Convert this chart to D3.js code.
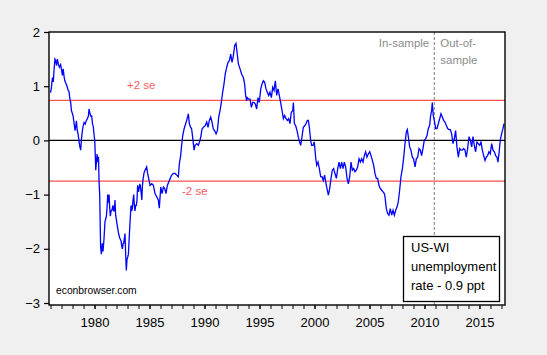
<!DOCTYPE html>
<html><head><meta charset="utf-8">
<script src="https://cdn.jsdelivr.net/npm/d3@7"></script>
<style>
body{margin:0;background:#f0f0f0;}
svg{display:block;font-family:"Liberation Sans",Arial,sans-serif;}
</style></head>
<body><svg id="c" width="547" height="355"></svg>
<script>
const dates = [
1976.0,1976.08,1976.17,1976.25,1976.32,1976.4,1976.47,1976.55,1976.62,1976.7,1976.8,1976.92,
1977.0,1977.08,1977.15,1977.23,1977.3,1977.4,1977.53,1977.6,1977.68,1977.75,1977.83,1977.9,1977.98,
1978.05,1978.15,1978.23,1978.3,1978.35,1978.42,1978.5,1978.58,1978.65,1978.74,1978.8,1978.89,1978.97,
1979.05,1979.15,1979.26,1979.35,1979.44,1979.5,1979.56,1979.65,1979.74,1979.82,1979.89,1979.96,
1980.02,1980.08,1980.11,1980.17,1980.23,1980.3,1980.36,1980.41,1980.47,1980.55,1980.62,1980.7,1980.77,1980.86,1980.95,
1981.08,1981.15,1981.2,1981.26,1981.32,1981.38,1981.44,1981.5,1981.56,1981.62,1981.68,1981.74,1981.8,1981.86,1981.92,
1982.05,1982.17,1982.29,1982.41,1982.47,1982.53,1982.6,1982.65,1982.72,1982.77,1982.83,1982.89,1982.95,
1983.02,1983.08,1983.14,1983.23,1983.32,1983.38,1983.44,1983.5,1983.56,1983.62,1983.68,1983.74,1983.8,1983.86,1983.92,
1984.0,1984.05,1984.12,1984.17,1984.23,1984.3,1984.35,1984.41,1984.5,1984.59,1984.74,1984.82,1984.89,
1985.05,1985.2,1985.35,1985.5,1985.65,1985.8,1985.89,1986.02,1986.14,1986.26,1986.38,1986.5,1986.62,1986.74,1986.86,
1987.02,1987.17,1987.32,1987.47,1987.62,1987.71,1987.83,1987.92,1988.02,1988.14,1988.23,1988.38,1988.53,1988.62,1988.74,1988.83,1988.92,
1989.05,1989.14,1989.29,1989.44,1989.59,1989.68,1989.77,1989.89,1990.05,1990.2,1990.32,1990.44,1990.56,1990.68,1990.8,1990.92,
1991.05,1991.17,1991.29,1991.41,1991.53,1991.65,1991.77,1991.89,1992.02,1992.14,1992.26,1992.38,1992.5,1992.62,1992.74,1992.86,1992.98,
1993.08,1993.23,1993.38,1993.53,1993.65,1993.74,1993.83,1993.89,1994.02,1994.14,1994.26,1994.38,1994.5,1994.62,1994.74,1994.86,1994.98,
1995.11,1995.23,1995.35,1995.47,1995.59,1995.71,1995.83,1995.95,1996.08,1996.2,1996.32,1996.44,1996.56,1996.68,1996.8,1996.92,
1997.05,1997.17,1997.29,1997.41,1997.53,1997.65,1997.77,1997.89,1998.02,1998.08,1998.17,1998.29,1998.41,1998.53,1998.65,1998.74,1998.86,1998.98,
1999.11,1999.23,1999.35,1999.44,1999.53,1999.65,1999.74,1999.86,1999.98,2000.11,2000.2,2000.32,2000.44,2000.56,2000.68,2000.8,2000.92,
2001.05,2001.17,2001.26,2001.38,2001.5,2001.62,2001.74,2001.86,2001.99,2002.11,2002.23,2002.35,2002.47,2002.59,2002.71,2002.83,2002.96,
2003.08,2003.2,2003.32,2003.44,2003.56,2003.68,2003.8,2003.92,2004.05,2004.17,2004.29,2004.41,2004.53,2004.65,2004.77,2004.89,
2005.02,2005.14,2005.26,2005.38,2005.5,2005.62,2005.74,2005.86,2005.99,2006.11,2006.23,2006.35,2006.41,2006.53,2006.65,2006.77,2006.89,
2007.02,2007.14,2007.26,2007.38,2007.5,2007.62,2007.74,2007.86,2007.99,2008.11,2008.23,2008.35,2008.44,2008.53,2008.65,2008.77,2008.89,
2009.01,2009.14,2009.26,2009.38,2009.5,2009.62,2009.74,2009.86,2009.98,2010.11,2010.23,2010.35,2010.47,2010.56,2010.65,2010.71,2010.8,2010.89,
2011.02,2011.14,2011.26,2011.38,2011.5,2011.62,2011.74,2011.86,2011.98,2012.11,2012.23,2012.35,2012.47,2012.59,2012.71,2012.83,2012.95,
2013.08,2013.2,2013.32,2013.44,2013.56,2013.68,2013.8,2013.92,2014.05,2014.17,2014.29,2014.41,2014.53,2014.65,2014.77,2014.89,
2015.02,2015.14,2015.26,2015.38,2015.5,2015.62,2015.74,2015.86,2015.98,2016.11,2016.23,2016.35,2016.47,2016.59,2016.68,2016.77,2016.89,
2017.01,2017.14,2017.23
];
const values = [
0.88,0.97,1.16,1.08,1.3,1.5,1.47,1.38,1.5,1.42,1.35,1.4,
1.3,1.2,1.32,1.18,1.1,1.05,0.98,0.92,0.9,0.78,0.7,0.55,0.5,
0.45,0.3,0.18,0.28,0.36,0.2,0.12,0.0,-0.1,-0.18,0.0,0.17,0.27,
0.33,0.3,0.37,0.4,0.45,0.58,0.52,0.45,0.45,0.3,0.25,0.1,
0.0,-0.35,-0.55,-0.4,-0.25,-0.4,-0.3,-0.75,-1.0,-1.95,-2.1,-1.9,-2.05,-1.82,-1.5,
-1.4,-1.2,-1.0,-1.15,-1.0,-1.25,-1.4,-1.3,-1.3,-1.25,-1.2,-1.3,-1.3,-1.1,-1.38,
-1.55,-1.7,-1.8,-1.85,-1.95,-2.0,-1.9,-1.9,-1.8,-1.72,-2.1,-2.4,-2.2,
-2.15,-2.1,-1.85,-1.5,-1.2,-1.3,-1.25,-1.1,-1.0,-1.2,-1.3,-1.2,-1.2,-1.1,-0.83,
-0.95,-0.89,-0.8,-0.85,-0.95,-1.1,-0.85,-0.72,-0.6,-0.55,-0.49,-0.6,-0.67,
-0.83,-0.8,-0.83,-0.98,-1.04,-1.1,-1.25,-0.86,-0.98,-0.86,-0.89,-0.98,-0.83,-0.77,-0.71,
-0.64,-0.61,-0.61,-0.64,-0.67,-0.43,-0.28,-0.09,0.09,0.21,0.27,0.37,0.49,0.31,0.24,0.21,0.06,
-0.18,-0.09,-0.06,-0.09,0.0,0.09,0.21,0.24,0.27,0.34,0.24,0.37,0.43,0.34,0.21,0.18,
0.12,0.18,0.43,0.55,0.7,0.89,1.04,1.23,1.35,1.44,1.47,1.59,1.44,1.56,1.75,1.79,1.59,
1.41,1.32,1.22,1.16,1.04,0.83,0.73,0.79,0.76,0.76,0.61,0.7,0.7,0.67,0.58,0.79,0.7,
0.95,1.04,1.1,1.07,0.95,0.89,0.83,0.89,0.79,0.98,0.92,1.1,0.83,0.95,0.83,0.7,
0.55,0.4,0.46,0.4,0.37,0.4,0.31,0.52,0.55,0.7,0.31,0.27,0.18,0.06,-0.03,-0.09,0.06,0.24,
0.27,0.31,0.37,0.37,0.24,0.0,-0.09,-0.09,-0.03,-0.33,-0.46,-0.4,-0.52,-0.67,-0.67,-0.74,-0.64,
-0.8,-0.92,-1.01,-0.89,-0.7,-0.55,-0.52,-0.61,-0.7,-0.52,-0.4,-0.52,-0.4,-0.52,-0.4,-0.49,-0.7,
-0.8,-0.67,-0.4,-0.55,-0.52,-0.58,-0.55,-0.49,-0.34,-0.4,-0.34,-0.4,-0.28,-0.21,-0.31,-0.25,
-0.21,-0.28,-0.37,-0.46,-0.61,-0.7,-0.7,-0.83,-0.89,-0.92,-0.95,-0.98,-1.04,-1.26,-1.35,-1.38,-1.26,
-1.38,-1.29,-1.38,-1.29,-1.23,-1.13,-0.92,-0.67,-0.52,-0.31,-0.06,0.16,0.2,0.07,-0.12,-0.18,-0.31,
-0.34,-0.49,-0.34,-0.31,-0.15,-0.18,-0.28,-0.15,0.0,0.03,0.09,0.22,0.28,0.46,0.55,0.7,0.46,0.37,
0.22,0.22,0.31,0.4,0.49,0.43,0.37,0.34,0.28,0.22,0.2,0.2,0.12,-0.06,0.03,0.18,-0.12,
-0.31,-0.15,-0.18,-0.18,-0.15,-0.18,-0.31,-0.15,0.07,0.0,-0.12,0.07,-0.09,-0.21,-0.03,-0.06,
-0.09,-0.03,-0.18,-0.28,-0.37,-0.31,-0.28,-0.21,-0.25,-0.06,-0.18,-0.21,-0.28,-0.31,-0.4,-0.25,0.0,
0.12,0.22,0.31
];
const yTicks = [-3,-2,-1,0,1,2];
const xLabelYears = [1980,1985,1990,1995,2000,2005,2010,2015];
const xMinorYears = d3.range(1976,2018);
const seBand = [0.74,-0.75];
const seLabels = ["+2 se","-2 se"];
const splitYear = 2010.89;
const legendLines = ["US-WI","unemployment","rate - 0.9 ppt"];

const svg = d3.select("#c");
const L=49,R=505,T=32,B=305;
const x = d3.scaleLinear().domain([1975.86,2017.32]).range([L,R]);
const y = d3.scaleLinear().domain([-3,2]).range([303,T]);

svg.append("rect").attr("x",L).attr("y",T).attr("width",R-L).attr("height",B-T).attr("fill","#fff");

// se lines
svg.selectAll(".se").data(seBand).enter().append("line")
  .attr("x1",L).attr("x2",R).attr("y1",d=>y(d)).attr("y2",d=>y(d))
  .attr("stroke","#ff4f4f").attr("stroke-width",1.3);
// zero line
svg.append("line").attr("x1",L).attr("x2",R).attr("y1",y(0)).attr("y2",y(0))
  .attr("stroke","#000").attr("stroke-width",1.4);
// split line
svg.append("line").attr("x1",x(splitYear)).attr("x2",x(splitYear)).attr("y1",T).attr("y2",B)
  .attr("stroke","#7a7a7a").attr("stroke-width",1).attr("stroke-dasharray","3,2");

// series
const pts = dates.map((d,i)=>[d,values[i]]);
svg.append("path").datum(pts)
  .attr("d",d3.line().x(d=>x(d[0])).y(d=>y(d[1])))
  .attr("fill","none").attr("stroke","#0000ff").attr("stroke-width",1.3).attr("stroke-linejoin","miter");

// se labels
svg.append("text").attr("x",127).attr("y",y(seBand[0])-11).attr("font-size",11.5).attr("fill","#ff5a5a").text(seLabels[0]);
svg.append("text").attr("x",182).attr("y",y(seBand[1])+14).attr("font-size",11.5).attr("fill","#ff5a5a").text(seLabels[1]);

// sample labels
svg.append("text").attr("x",x(splitYear)-5).attr("y",47).attr("text-anchor","end").attr("font-size",11.5).attr("fill","#8c8c8c").text("In-sample");
svg.append("text").attr("x",x(splitYear)+6).attr("y",47).attr("font-size",11.5).attr("fill","#8c8c8c").text("Out-of-");
svg.append("text").attr("x",x(splitYear)+6).attr("y",64).attr("font-size",11.5).attr("fill","#8c8c8c").text("sample");

// frame
svg.append("rect").attr("x",L).attr("y",T).attr("width",R-L).attr("height",B-T)
  .attr("fill","none").attr("stroke","#000").attr("stroke-width",1.4);

// y axis
const yAxis = d3.axisLeft(y).tickValues(yTicks).tickSize(5).tickPadding(4).tickFormat(d3.format("d"));
const gy = svg.append("g").attr("transform",`translate(${L},0)`).call(yAxis);
gy.select(".domain").remove();
gy.selectAll("line").attr("stroke","#000").attr("stroke-width",1.2);
gy.selectAll("text").attr("font-size",13).attr("font-family","Liberation Sans, Arial, sans-serif").attr("fill","#000");

// x axis minor ticks
const gxm = svg.append("g").attr("transform",`translate(0,${B})`)
  .call(d3.axisBottom(x).tickValues(xMinorYears).tickSize(4).tickFormat(""));
gxm.select(".domain").remove();
gxm.selectAll("line").attr("stroke","#000").attr("stroke-width",1);
const gx = svg.append("g").attr("transform",`translate(0,${B})`)
  .call(d3.axisBottom(x).tickValues(xLabelYears).tickSize(4).tickPadding(9).tickFormat(d3.format("d")));
gx.select(".domain").remove();
gx.selectAll("line").attr("stroke","#000").attr("stroke-width",1);
gx.selectAll("text").attr("font-size",13).attr("font-family","Liberation Sans, Arial, sans-serif").attr("fill","#000");

// watermark
svg.append("text").attr("x",56).attr("y",294).attr("font-size",10.3).attr("fill","#000").text("econbrowser.com");

// legend
svg.append("rect").attr("x",403.5).attr("y",236.5).attr("width",96).attr("height",65)
  .attr("fill","#fff").attr("stroke","#000").attr("stroke-width",1.3);
svg.selectAll(".lg").data(legendLines).enter().append("text")
  .attr("x",411).attr("y",(d,i)=>252+i*19).attr("font-size",13).attr("fill","#000").text(d=>d);
</script></body></html>
